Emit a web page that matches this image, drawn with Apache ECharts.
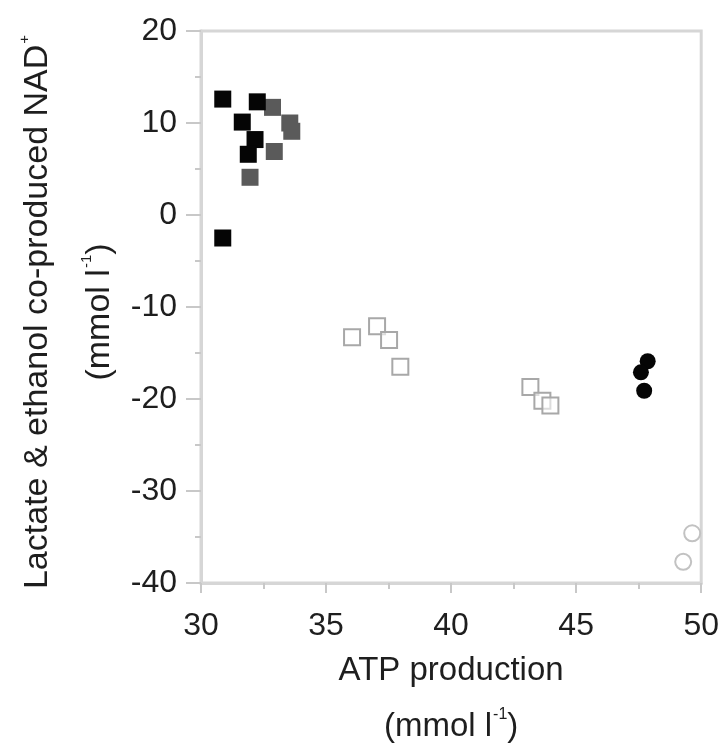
<!DOCTYPE html>
<html>
<head>
<meta charset="utf-8">
<script src="https://cdn.jsdelivr.net/npm/echarts@6/dist/echarts.min.js"></script>
<style>
  html, body { margin: 0; padding: 0; background: #fff; }
  #chart { width: 722px; height: 752px; }
</style>
</head>
<body>
<div id="chart"></div>
<script>
// Axis ranges and ticks
const xTicks = [30, 35, 40, 45, 50];
const yTicks = [-40, -30, -20, -10, 0, 10, 20];

// [ATP production, co-produced NAD+] per group (mmol l-1)
const blackSquares = [
  [30.87, 12.6], [32.25, 12.3], [31.65, 10.1], [32.16, 8.2], [31.89, 6.6], [30.87, -2.5]
];
const graySquares = [
  [32.86, 11.7], [33.55, 10.0], [33.63, 9.1], [32.93, 6.9], [31.96, 4.1]
];
const openSquares = [
  [36.04, -13.3], [37.04, -12.1], [37.52, -13.6], [37.97, -16.5],
  [43.17, -18.7], [43.65, -20.2], [43.97, -20.7]
];
const blackCircles = [
  [47.86, -15.9], [47.59, -17.1], [47.72, -19.1]
];
const openCircles = [
  [49.64, -34.6], [49.28, -37.7]
];

const axisGray = '#d6d6d6';
const tickGray = '#c8c8c8';
const textColor = '#1e1e1e';
const mainFont = "'Liberation Sans', Arial, sans-serif";

const chart = echarts.init(document.getElementById('chart'), null, { renderer: 'canvas' });

chart.setOption({
  animation: false,
  backgroundColor: '#fff',
  grid: {
    left: 201, right: 20, top: 31, bottom: 160,
    show: true, borderColor: axisGray, borderWidth: 3, backgroundColor: 'transparent'
  },
  xAxis: {
    type: 'value',
    min: xTicks[0], max: xTicks[xTicks.length - 1], interval: 5,
    splitLine: { show: false },
    axisLine: { show: true, onZero: false, lineStyle: { color: axisGray, width: 3 } },
    axisTick: { show: true, length: 10, lineStyle: { color: tickGray, width: 2 } },
    minorTick: { show: true, splitNumber: 2, length: 6, lineStyle: { color: tickGray, width: 2 } },
    axisLabel: { margin: 27, fontSize: 32, color: textColor, fontFamily: mainFont },
    name: '{a|ATP production}\n{a|(mmol l}{s|-1}{a|)}',
    nameLocation: 'middle',
    nameGap: 60,
    nameMoveOverlap: false,
    nameTextStyle: {
      color: textColor,
      rich: {
        a: { fontSize: 33, lineHeight: 56, fontFamily: mainFont, color: textColor },
        s: { fontSize: 16, lineHeight: 56, fontFamily: mainFont, color: textColor, padding: [0, 0, 24, 1] }
      }
    }
  },
  yAxis: {
    type: 'value',
    min: yTicks[0], max: yTicks[yTicks.length - 1], interval: 10,
    splitLine: { show: false },
    axisLine: { show: true, onZero: false, lineStyle: { color: axisGray, width: 3 } },
    axisTick: { show: true, length: 15, lineStyle: { color: tickGray, width: 2 } },
    minorTick: { show: true, splitNumber: 2, length: 6, lineStyle: { color: tickGray, width: 2 } },
    axisLabel: { margin: 24, fontSize: 32, color: textColor, fontFamily: mainFont },
    name: '{a|Lactate & ethanol co-produced NAD}{s|+}\n{a|(mmol l}{s|-1}{a|)}',
    nameLocation: 'middle',
    nameRotate: 90,
    nameGap: 70,
    nameMoveOverlap: false,
    nameTextStyle: {
      color: textColor,
      padding: [0, 10, 0, 0],
      rich: {
        a: { fontSize: 34, lineHeight: 62, fontFamily: mainFont, color: textColor },
        s: { fontSize: 15, lineHeight: 62, fontFamily: mainFont, color: textColor, padding: [0, 0, 26, 1] }
      }
    }
  },
  series: [
    {
      type: 'scatter', name: 'gray squares', data: graySquares,
      symbol: 'rect', symbolSize: 17,
      itemStyle: { color: '#5a5a5a', opacity: 1 }
    },
    {
      type: 'scatter', name: 'black squares', data: blackSquares,
      symbol: 'rect', symbolSize: 17,
      itemStyle: { color: '#050505', opacity: 1 }
    },
    {
      type: 'scatter', name: 'open squares', data: openSquares,
      symbol: 'rect', symbolSize: 16,
      itemStyle: { color: 'rgba(255,255,255,0.6)', borderColor: '#a8a8a8', borderWidth: 2, opacity: 1 }
    },
    {
      type: 'scatter', name: 'black circles', data: blackCircles,
      symbol: 'circle', symbolSize: 16,
      itemStyle: { color: '#050505', opacity: 1 }
    },
    {
      type: 'scatter', name: 'open circles', data: openCircles,
      symbol: 'circle', symbolSize: 16,
      itemStyle: { color: 'rgba(255,255,255,0.6)', borderColor: '#c2c2c2', borderWidth: 2, opacity: 1 }
    }
  ]
});
</script>
</body>
</html>
